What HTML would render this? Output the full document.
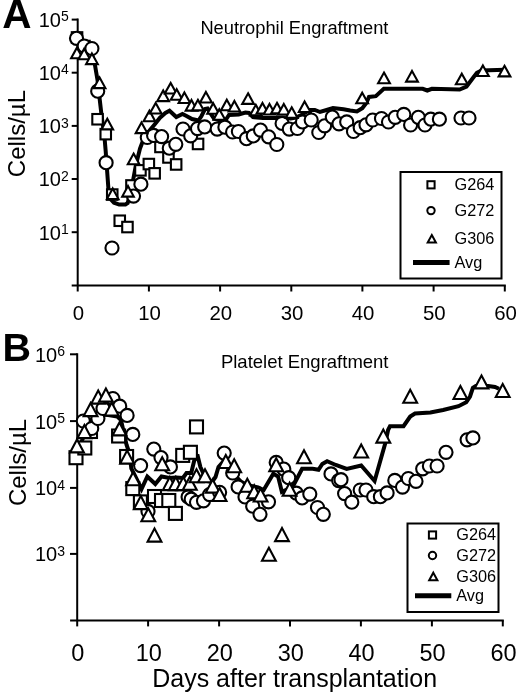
<!DOCTYPE html>
<html><head><meta charset="utf-8"><style>
html,body{margin:0;padding:0;background:#fff;width:520px;height:692px;overflow:hidden}
svg{display:block;will-change:transform}
text{font-family:"Liberation Sans",sans-serif;fill:#000}
.m{fill:#fff;stroke:#000;stroke-width:2.1;stroke-linejoin:miter}
.avg{fill:none;stroke:#000;stroke-width:4;stroke-linejoin:miter;stroke-miterlimit:2.5;stroke-linecap:butt}
.ax{stroke:#000;stroke-width:2;fill:none}
.tl{font-size:20px}
.ex{font-size:14px}
.xl{font-size:20.4px}
.xl2{font-size:23.5px}
.lb{fill:#fff;stroke:#000;stroke-width:2}
.lm{fill:#fff;stroke:#000;stroke-width:2}
.la{stroke:#000;stroke-width:5}
.lt{font-size:16.3px}
.big{font-size:39.5px;font-weight:bold}
.ti{font-size:18.3px}
.yl{font-size:24px}
.dl{font-size:25px}
</style></head><body>
<svg width="520" height="692" viewBox="0 0 520 692">
<rect width="520" height="692" fill="#fff"/>
<text x="2.2" y="27.8" class="big" style="font-size:40.5px">A</text>
<text x="2.6" y="360.6" class="big">B</text>
<text x="200.4" y="34.1" class="ti">Neutrophil Engraftment</text>
<text x="220.9" y="368" class="ti" style="font-size:18.5px">Platelet Engraftment</text>
<text transform="translate(25.2,133.6) rotate(-90)" class="yl" text-anchor="middle">Cells/µL</text>
<text transform="translate(26,462.5) rotate(-90)" class="yl" text-anchor="middle">Cells/µL</text>
<text x="152.2" y="687" class="dl">Days after transplantation</text>
<line x1="77.7" y1="18.6" x2="77.7" y2="285.5" class="ax"/>
<line x1="71.7" y1="19.6" x2="77.7" y2="19.6" class="ax"/>
<text x="68.8" y="27.0" class="tl" text-anchor="end">10<tspan class="ex" dy="-5.8">5</tspan></text>
<line x1="71.7" y1="72.7" x2="77.7" y2="72.7" class="ax"/>
<text x="68.8" y="80.10000000000001" class="tl" text-anchor="end">10<tspan class="ex" dy="-5.8">4</tspan></text>
<line x1="71.7" y1="125.9" x2="77.7" y2="125.9" class="ax"/>
<text x="68.8" y="133.3" class="tl" text-anchor="end">10<tspan class="ex" dy="-5.8">3</tspan></text>
<line x1="71.7" y1="179.0" x2="77.7" y2="179.0" class="ax"/>
<text x="68.8" y="186.4" class="tl" text-anchor="end">10<tspan class="ex" dy="-5.8">2</tspan></text>
<line x1="71.7" y1="232.2" x2="77.7" y2="232.2" class="ax"/>
<text x="68.8" y="239.6" class="tl" text-anchor="end">10<tspan class="ex" dy="-5.8">1</tspan></text>
<line x1="71.7" y1="285.5" x2="505.8" y2="285.5" class="ax"/>
<line x1="77.7" y1="285.5" x2="77.7" y2="291.5" class="ax"/>
<text x="78.4" y="320.0" class="xl" text-anchor="middle">0</text>
<line x1="148.9" y1="285.5" x2="148.9" y2="291.5" class="ax"/>
<text x="149.6" y="320.0" class="xl" text-anchor="middle">10</text>
<line x1="220.1" y1="285.5" x2="220.1" y2="291.5" class="ax"/>
<text x="220.8" y="320.0" class="xl" text-anchor="middle">20</text>
<line x1="291.3" y1="285.5" x2="291.3" y2="291.5" class="ax"/>
<text x="292.0" y="320.0" class="xl" text-anchor="middle">30</text>
<line x1="362.4" y1="285.5" x2="362.4" y2="291.5" class="ax"/>
<text x="363.1" y="320.0" class="xl" text-anchor="middle">40</text>
<line x1="433.6" y1="285.5" x2="433.6" y2="291.5" class="ax"/>
<text x="434.3" y="320.0" class="xl" text-anchor="middle">50</text>
<line x1="504.8" y1="285.5" x2="504.8" y2="291.5" class="ax"/>
<text x="505.5" y="320.0" class="xl" text-anchor="middle">60</text>
<line x1="77.2" y1="353.3" x2="77.2" y2="620.4" class="ax"/>
<line x1="70.0" y1="354.3" x2="77.2" y2="354.3" class="ax"/>
<text x="65" y="361.7" class="tl" text-anchor="end">10<tspan class="ex" dy="-5.8">6</tspan></text>
<line x1="70.0" y1="421.1" x2="77.2" y2="421.1" class="ax"/>
<text x="65" y="428.5" class="tl" text-anchor="end">10<tspan class="ex" dy="-5.8">5</tspan></text>
<line x1="70.0" y1="487.9" x2="77.2" y2="487.9" class="ax"/>
<text x="65" y="495.29999999999995" class="tl" text-anchor="end">10<tspan class="ex" dy="-5.8">4</tspan></text>
<line x1="70.0" y1="553.9" x2="77.2" y2="553.9" class="ax"/>
<text x="65" y="561.3" class="tl" text-anchor="end">10<tspan class="ex" dy="-5.8">3</tspan></text>
<line x1="70.1" y1="620.4" x2="503.8" y2="620.4" class="ax"/>
<line x1="77.2" y1="620.4" x2="77.2" y2="626.4" class="ax"/>
<text x="77.9" y="660.6999999999999" class="xl2" text-anchor="middle">0</text>
<line x1="148.1" y1="620.4" x2="148.1" y2="626.4" class="ax"/>
<text x="148.8" y="660.6999999999999" class="xl2" text-anchor="middle">10</text>
<line x1="219.1" y1="620.4" x2="219.1" y2="626.4" class="ax"/>
<text x="219.8" y="660.6999999999999" class="xl2" text-anchor="middle">20</text>
<line x1="290.0" y1="620.4" x2="290.0" y2="626.4" class="ax"/>
<text x="290.7" y="660.6999999999999" class="xl2" text-anchor="middle">30</text>
<line x1="360.9" y1="620.4" x2="360.9" y2="626.4" class="ax"/>
<text x="361.6" y="660.6999999999999" class="xl2" text-anchor="middle">40</text>
<line x1="431.9" y1="620.4" x2="431.9" y2="626.4" class="ax"/>
<text x="432.6" y="660.6999999999999" class="xl2" text-anchor="middle">50</text>
<line x1="502.8" y1="620.4" x2="502.8" y2="626.4" class="ax"/>
<text x="503.5" y="660.6999999999999" class="xl2" text-anchor="middle">60</text>
<rect x="400.5" y="172" width="101" height="106.5" class="lb"/>
<rect x="427.4" y="181.20000000000002" width="7.2" height="7.2" class="lm"/>
<circle cx="431" cy="210.6" r="3.7" class="lm"/>
<path d="M431.8 235.0L435.9 242.5L427.7 242.5Z" class="lm"/>
<line x1="413" y1="262.5" x2="449.6" y2="262.5" class="la"/>
<text x="454.5" y="190.10000000000002" class="lt">G264</text>
<text x="454.5" y="215.9" class="lt">G272</text>
<text x="454.5" y="243.9" class="lt">G306</text>
<text x="454.5" y="267.8" class="lt">Avg</text>
<rect x="407.5" y="523.5" width="91" height="88.5" class="lb"/>
<rect x="428.9" y="531.4" width="7.2" height="7.2" class="lm"/>
<circle cx="432.5" cy="555.5" r="3.7" class="lm"/>
<path d="M433.3 572.65L437.4 580.15L429.2 580.15Z" class="lm"/>
<line x1="415" y1="595.75" x2="451.3" y2="595.75" class="la"/>
<text x="456.3" y="540.3" class="lt">G264</text>
<text x="456.3" y="560.8" class="lt">G272</text>
<text x="456.3" y="581.55" class="lt">G306</text>
<text x="456.3" y="601.05" class="lt">Avg</text>
<polyline points="77.7,45.0 84.8,49.0 91.5,53.0 94.7,63.5 97.5,80.0 99.7,99.2 101.6,115.7 104.3,134.9 105.7,151.4 107.1,170.6 108.5,189.8 111.2,199.8 114.0,202.7 119.2,204.6 125.4,204.6 127.7,203.0 131.8,187.1 135.9,165.1 140.0,148.6 144.0,138.0 150.0,130.0 155.0,124.0 160.0,117.7 165.4,113.0 169.5,110.8 176.3,117.0 182.5,114.0 186.5,116.0 192.0,119.0 198.5,120.5 201.5,116.0 205.0,109.0 207.5,108.5 210.5,113.5 214.0,118.5 220.0,120.5 226.0,119.5 229.0,115.0 238.7,114.5 245.4,112.5 249.0,113.0 253.0,117.0 257.0,117.5 263.0,118.0 271.7,118.0 281.2,118.0 290.6,118.5 296.0,117.5 301.3,115.0 309.4,110.0 314.8,110.0 320.0,112.0 328.3,109.5 333.0,108.0 343.5,109.3 350.2,110.5 356.9,111.5 362.3,108.2 366.3,103.0 369.0,96.9 375.8,96.2 383.8,88.8 422.7,88.8 427.3,90.5 431.9,88.8 459.6,89.5 466.5,86.5 473.5,77.3 476.9,72.7 481.5,70.4 505.0,69.8" class="avg"/>
<rect x="71.8" y="32.2" width="10.5" height="10.5" class="m"/>
<rect x="79.2" y="40.8" width="10.5" height="10.5" class="m"/>
<rect x="92.3" y="114.0" width="10.5" height="10.5" class="m"/>
<rect x="100.5" y="128.9" width="10.5" height="10.5" class="m"/>
<rect x="107.0" y="189.3" width="10.5" height="10.5" class="m"/>
<rect x="114.5" y="215.5" width="10.5" height="10.5" class="m"/>
<rect x="122.2" y="221.8" width="10.5" height="10.5" class="m"/>
<rect x="126.2" y="180.2" width="10.5" height="10.5" class="m"/>
<rect x="135.2" y="165.1" width="10.5" height="10.5" class="m"/>
<rect x="143.6" y="158.8" width="10.5" height="10.5" class="m"/>
<rect x="149.4" y="168.1" width="10.5" height="10.5" class="m"/>
<rect x="155.2" y="141.7" width="10.5" height="10.5" class="m"/>
<rect x="163.2" y="152.2" width="10.5" height="10.5" class="m"/>
<rect x="170.9" y="159.2" width="10.5" height="10.5" class="m"/>
<rect x="192.8" y="138.7" width="10.5" height="10.5" class="m"/>
<circle cx="76.5" cy="38.3" r="6.55" class="m"/>
<circle cx="84.2" cy="46.0" r="6.55" class="m"/>
<circle cx="91.9" cy="48.5" r="6.55" class="m"/>
<circle cx="97.7" cy="91.2" r="6.55" class="m"/>
<circle cx="106.1" cy="162.7" r="6.55" class="m"/>
<circle cx="112.0" cy="248.0" r="6.55" class="m"/>
<circle cx="133.5" cy="196.1" r="6.55" class="m"/>
<circle cx="140.9" cy="184.2" r="6.55" class="m"/>
<circle cx="147.3" cy="137.5" r="6.55" class="m"/>
<circle cx="153.6" cy="135.4" r="6.55" class="m"/>
<circle cx="161.6" cy="136.6" r="6.55" class="m"/>
<circle cx="169.3" cy="148.2" r="6.55" class="m"/>
<circle cx="175.8" cy="144.3" r="6.55" class="m"/>
<circle cx="183.0" cy="129.0" r="6.55" class="m"/>
<circle cx="190.7" cy="135.8" r="6.55" class="m"/>
<circle cx="197.5" cy="128.6" r="6.55" class="m"/>
<circle cx="204.7" cy="126.9" r="6.55" class="m"/>
<circle cx="217.2" cy="129.1" r="6.55" class="m"/>
<circle cx="224.9" cy="127.2" r="6.55" class="m"/>
<circle cx="232.6" cy="132.0" r="6.55" class="m"/>
<circle cx="238.4" cy="131.5" r="6.55" class="m"/>
<circle cx="246.5" cy="138.7" r="6.55" class="m"/>
<circle cx="253.3" cy="135.9" r="6.55" class="m"/>
<circle cx="260.5" cy="130.1" r="6.55" class="m"/>
<circle cx="268.6" cy="136.8" r="6.55" class="m"/>
<circle cx="276.8" cy="144.5" r="6.55" class="m"/>
<circle cx="282.1" cy="123.4" r="6.55" class="m"/>
<circle cx="289.3" cy="129.1" r="6.55" class="m"/>
<circle cx="297.4" cy="128.5" r="6.55" class="m"/>
<circle cx="302.5" cy="121.9" r="6.55" class="m"/>
<circle cx="311.2" cy="120.0" r="6.55" class="m"/>
<circle cx="318.8" cy="132.5" r="6.55" class="m"/>
<circle cx="324.6" cy="125.8" r="6.55" class="m"/>
<circle cx="332.3" cy="117.1" r="6.55" class="m"/>
<circle cx="339.0" cy="123.8" r="6.55" class="m"/>
<circle cx="346.7" cy="121.9" r="6.55" class="m"/>
<circle cx="353.5" cy="131.5" r="6.55" class="m"/>
<circle cx="360.2" cy="127.7" r="6.55" class="m"/>
<circle cx="366.0" cy="124.8" r="6.55" class="m"/>
<circle cx="372.7" cy="120.0" r="6.55" class="m"/>
<circle cx="381.5" cy="118.5" r="6.55" class="m"/>
<circle cx="388.5" cy="122.0" r="6.55" class="m"/>
<circle cx="395.2" cy="117.3" r="6.55" class="m"/>
<circle cx="403.8" cy="114.4" r="6.55" class="m"/>
<circle cx="410.6" cy="125.0" r="6.55" class="m"/>
<circle cx="418.3" cy="117.3" r="6.55" class="m"/>
<circle cx="425.0" cy="125.0" r="6.55" class="m"/>
<circle cx="430.8" cy="119.2" r="6.55" class="m"/>
<circle cx="439.4" cy="119.2" r="6.55" class="m"/>
<circle cx="461.0" cy="118.0" r="6.55" class="m"/>
<circle cx="469.0" cy="118.0" r="6.55" class="m"/>
<path d="M76.9 47.7L82.8 58.3L71.1 58.3Z" class="m"/>
<path d="M84.2 48.7L90.0 59.3L78.4 59.3Z" class="m"/>
<path d="M91.9 53.5L97.8 64.1L86.1 64.1Z" class="m"/>
<path d="M99.6 77.5L105.4 88.1L93.8 88.1Z" class="m"/>
<path d="M107.3 118.8L113.1 129.4L101.5 129.4Z" class="m"/>
<path d="M112.7 188.5L118.5 199.1L106.9 199.1Z" class="m"/>
<path d="M128.0 186.0L133.8 196.6L122.2 196.6Z" class="m"/>
<path d="M133.6 153.6L139.4 164.2L127.8 164.2Z" class="m"/>
<path d="M141.5 122.5L147.3 133.1L135.7 133.1Z" class="m"/>
<path d="M149.4 110.6L155.2 121.2L143.6 121.2Z" class="m"/>
<path d="M155.7 102.9L161.5 113.5L149.8 113.5Z" class="m"/>
<path d="M163.2 90.5L169.0 101.1L157.3 101.1Z" class="m"/>
<path d="M170.7 82.9L176.5 93.5L164.8 93.5Z" class="m"/>
<path d="M176.7 89.2L182.5 99.8L170.8 99.8Z" class="m"/>
<path d="M184.4 92.4L190.2 103.0L178.6 103.0Z" class="m"/>
<path d="M191.5 100.0L197.3 110.6L185.7 110.6Z" class="m"/>
<path d="M197.9 99.8L203.8 110.4L192.1 110.4Z" class="m"/>
<path d="M205.9 91.9L211.8 102.5L200.1 102.5Z" class="m"/>
<path d="M213.2 103.2L219.0 113.8L207.3 113.8Z" class="m"/>
<path d="M219.3 109.2L225.2 119.8L213.5 119.8Z" class="m"/>
<path d="M226.8 99.7L232.7 110.3L221.0 110.3Z" class="m"/>
<path d="M234.4 100.9L240.2 111.5L228.6 111.5Z" class="m"/>
<path d="M248.1 93.3L253.9 103.9L242.2 103.9Z" class="m"/>
<path d="M255.8 104.8L261.7 115.4L250.0 115.4Z" class="m"/>
<path d="M262.5 102.9L268.4 113.5L256.6 113.5Z" class="m"/>
<path d="M269.5 103.9L275.4 114.5L263.6 114.5Z" class="m"/>
<path d="M277.0 102.8L282.9 113.4L271.1 113.4Z" class="m"/>
<path d="M283.8 104.0L289.7 114.6L277.9 114.6Z" class="m"/>
<path d="M291.7 107.3L297.6 117.9L285.8 117.9Z" class="m"/>
<path d="M304.6 101.4L310.5 112.0L298.8 112.0Z" class="m"/>
<path d="M362.2 92.7L368.1 103.3L356.3 103.3Z" class="m"/>
<path d="M384.0 72.6L389.9 83.2L378.1 83.2Z" class="m"/>
<path d="M412.0 71.0L417.9 81.6L406.1 81.6Z" class="m"/>
<path d="M461.8 73.7L467.7 84.3L455.9 84.3Z" class="m"/>
<path d="M482.9 65.4L488.8 76.0L477.0 76.0Z" class="m"/>
<path d="M504.5 65.8L510.4 76.4L498.6 76.4Z" class="m"/>
<polyline points="77.2,452.0 84.3,435.0 91.4,420.0 98.5,410.0 105.6,414.6 117.3,416.5 121.0,420.0 126.5,444.6 129.6,453.8 131.3,468.5 133.1,472.0 141.5,489.0 147.3,476.5 155.3,484.0 161.5,476.5 169.5,478.0 176.0,477.5 183.0,478.0 186.5,473.0 191.2,473.0 194.2,460.8 197.3,454.6 200.4,467.0 207.0,481.0 212.0,482.0 215.5,477.0 218.5,467.0 223.0,462.0 228.0,464.0 235.0,471.2 237.3,478.0 241.2,481.9 247.3,485.0 253.5,486.5 258.1,487.3 263.7,490.0 273.3,473.7 278.1,476.5 281.9,491.9 292.5,487.1 302.1,468.8 312.7,468.8 318.5,469.8 322.3,464.0 327.1,461.2 335.8,465.0 346.7,469.0 361.2,465.5 374.6,481.0 385.2,443.5 388.1,430.0 390.0,426.2 403.5,426.2 410.2,416.5 415.0,413.5 430.4,412.5 443.1,410.0 458.5,406.2 466.2,402.3 470.0,396.5 472.9,387.9 475.8,386.0 488.3,386.0 495.0,386.9 499.0,388.8" class="avg"/>
<rect x="69.5" y="451.2" width="13" height="13" class="m"/>
<rect x="78.3" y="441.5" width="13" height="13" class="m"/>
<rect x="84.0" y="425.0" width="13" height="13" class="m"/>
<rect x="112.1" y="429.5" width="13" height="13" class="m"/>
<rect x="120.1" y="450.0" width="13" height="13" class="m"/>
<rect x="126.3" y="482.1" width="13" height="13" class="m"/>
<rect x="133.9" y="495.4" width="13" height="13" class="m"/>
<rect x="148.0" y="490.0" width="13" height="13" class="m"/>
<rect x="155.0" y="494.0" width="13" height="13" class="m"/>
<rect x="162.3" y="494.0" width="13" height="13" class="m"/>
<rect x="168.9" y="506.9" width="13" height="13" class="m"/>
<rect x="176.2" y="448.9" width="13" height="13" class="m"/>
<rect x="183.9" y="445.8" width="13" height="13" class="m"/>
<rect x="190.0" y="420.4" width="13" height="13" class="m"/>
<circle cx="83.3" cy="421.0" r="6.55" class="m"/>
<circle cx="91.7" cy="428.5" r="6.55" class="m"/>
<circle cx="97.9" cy="418.5" r="6.55" class="m"/>
<circle cx="103.0" cy="408.5" r="6.55" class="m"/>
<circle cx="112.9" cy="398.5" r="6.55" class="m"/>
<circle cx="119.7" cy="406.2" r="6.55" class="m"/>
<circle cx="127.1" cy="415.4" r="6.55" class="m"/>
<circle cx="132.8" cy="434.4" r="6.55" class="m"/>
<circle cx="140.6" cy="465.6" r="6.55" class="m"/>
<circle cx="148.0" cy="511.4" r="6.55" class="m"/>
<circle cx="153.8" cy="449.1" r="6.55" class="m"/>
<circle cx="161.0" cy="457.6" r="6.55" class="m"/>
<circle cx="170.4" cy="466.9" r="6.55" class="m"/>
<circle cx="188.1" cy="496.9" r="6.55" class="m"/>
<circle cx="191.2" cy="499.2" r="6.55" class="m"/>
<circle cx="196.5" cy="502.3" r="6.55" class="m"/>
<circle cx="203.5" cy="500.8" r="6.55" class="m"/>
<circle cx="209.6" cy="494.6" r="6.55" class="m"/>
<circle cx="219.6" cy="492.3" r="6.55" class="m"/>
<circle cx="224.2" cy="453.1" r="6.55" class="m"/>
<circle cx="232.7" cy="473.0" r="6.55" class="m"/>
<circle cx="238.1" cy="486.9" r="6.55" class="m"/>
<circle cx="245.0" cy="496.9" r="6.55" class="m"/>
<circle cx="252.7" cy="506.2" r="6.55" class="m"/>
<circle cx="260.0" cy="514.3" r="6.55" class="m"/>
<circle cx="268.5" cy="501.8" r="6.55" class="m"/>
<circle cx="276.2" cy="462.4" r="6.55" class="m"/>
<circle cx="283.8" cy="469.1" r="6.55" class="m"/>
<circle cx="288.7" cy="477.7" r="6.55" class="m"/>
<circle cx="296.3" cy="493.2" r="6.55" class="m"/>
<circle cx="302.1" cy="497.9" r="6.55" class="m"/>
<circle cx="309.8" cy="494.1" r="6.55" class="m"/>
<circle cx="317.5" cy="507.5" r="6.55" class="m"/>
<circle cx="323.3" cy="514.3" r="6.55" class="m"/>
<circle cx="331.0" cy="473.9" r="6.55" class="m"/>
<circle cx="338.7" cy="480.6" r="6.55" class="m"/>
<circle cx="341.0" cy="479.7" r="6.55" class="m"/>
<circle cx="344.6" cy="493.6" r="6.55" class="m"/>
<circle cx="351.8" cy="502.2" r="6.55" class="m"/>
<circle cx="360.2" cy="490.0" r="6.55" class="m"/>
<circle cx="366.0" cy="490.0" r="6.55" class="m"/>
<circle cx="373.7" cy="496.7" r="6.55" class="m"/>
<circle cx="380.4" cy="496.7" r="6.55" class="m"/>
<circle cx="387.1" cy="492.9" r="6.55" class="m"/>
<circle cx="394.8" cy="480.4" r="6.55" class="m"/>
<circle cx="402.5" cy="487.1" r="6.55" class="m"/>
<circle cx="408.3" cy="478.5" r="6.55" class="m"/>
<circle cx="416.0" cy="481.3" r="6.55" class="m"/>
<circle cx="422.7" cy="468.8" r="6.55" class="m"/>
<circle cx="429.4" cy="466.0" r="6.55" class="m"/>
<circle cx="437.1" cy="466.0" r="6.55" class="m"/>
<circle cx="446.0" cy="452.3" r="6.55" class="m"/>
<circle cx="467.1" cy="439.8" r="6.55" class="m"/>
<circle cx="472.9" cy="437.9" r="6.55" class="m"/>
<path d="M77.0 439.4L83.9 452.4L70.1 452.4Z" class="m"/>
<path d="M84.4 425.1L91.3 438.1L77.5 438.1Z" class="m"/>
<path d="M90.6 403.1L97.5 416.1L83.7 416.1Z" class="m"/>
<path d="M98.2 390.6L105.1 403.6L91.3 403.6Z" class="m"/>
<path d="M105.9 388.6L112.8 401.6L99.0 401.6Z" class="m"/>
<path d="M111.7 402.6L118.6 415.6L104.8 415.6Z" class="m"/>
<path d="M119.4 422.4L126.3 435.4L112.5 435.4Z" class="m"/>
<path d="M127.1 450.6L134.0 463.6L120.2 463.6Z" class="m"/>
<path d="M133.1 472.3L140.0 485.3L126.2 485.3Z" class="m"/>
<path d="M140.8 496.1L147.7 509.1L133.9 509.1Z" class="m"/>
<path d="M148.3 508.3L155.2 521.3L141.4 521.3Z" class="m"/>
<path d="M154.5 528.6L161.4 541.6L147.6 541.6Z" class="m"/>
<path d="M162.2 457.2L169.1 470.2L155.3 470.2Z" class="m"/>
<path d="M169.8 477.1L176.7 490.1L162.9 490.1Z" class="m"/>
<path d="M175.8 477.1L182.7 490.1L168.9 490.1Z" class="m"/>
<path d="M183.3 477.1L190.2 490.1L176.4 490.1Z" class="m"/>
<path d="M189.8 476.8L196.7 489.8L182.9 489.8Z" class="m"/>
<path d="M196.5 469.3L203.4 482.3L189.6 482.3Z" class="m"/>
<path d="M205.0 469.3L211.9 482.3L198.1 482.3Z" class="m"/>
<path d="M212.7 479.6L219.6 492.6L205.8 492.6Z" class="m"/>
<path d="M219.6 488.0L226.5 501.0L212.7 501.0Z" class="m"/>
<path d="M225.8 455.0L232.7 468.0L218.9 468.0Z" class="m"/>
<path d="M234.2 459.2L241.1 472.2L227.3 472.2Z" class="m"/>
<path d="M247.3 478.8L254.2 491.8L240.4 491.8Z" class="m"/>
<path d="M254.2 485.3L261.1 498.3L247.3 498.3Z" class="m"/>
<path d="M260.6 488.5L267.5 501.5L253.7 501.5Z" class="m"/>
<path d="M268.9 547.8L275.8 560.8L262.0 560.8Z" class="m"/>
<path d="M276.2 458.3L283.1 471.3L269.3 471.3Z" class="m"/>
<path d="M282.0 528.1L288.9 541.1L275.1 541.1Z" class="m"/>
<path d="M289.6 482.8L296.5 495.8L282.7 495.8Z" class="m"/>
<path d="M304.0 450.3L310.9 463.3L297.1 463.3Z" class="m"/>
<path d="M361.2 444.5L368.1 457.5L354.3 457.5Z" class="m"/>
<path d="M383.3 429.6L390.2 442.6L376.4 442.6Z" class="m"/>
<path d="M410.2 389.8L417.1 402.8L403.3 402.8Z" class="m"/>
<path d="M460.4 386.0L467.3 399.0L453.5 399.0Z" class="m"/>
<path d="M481.5 375.4L488.4 388.4L474.6 388.4Z" class="m"/>
<path d="M502.7 384.0L509.6 397.0L495.8 397.0Z" class="m"/>
</svg>
</body></html>
